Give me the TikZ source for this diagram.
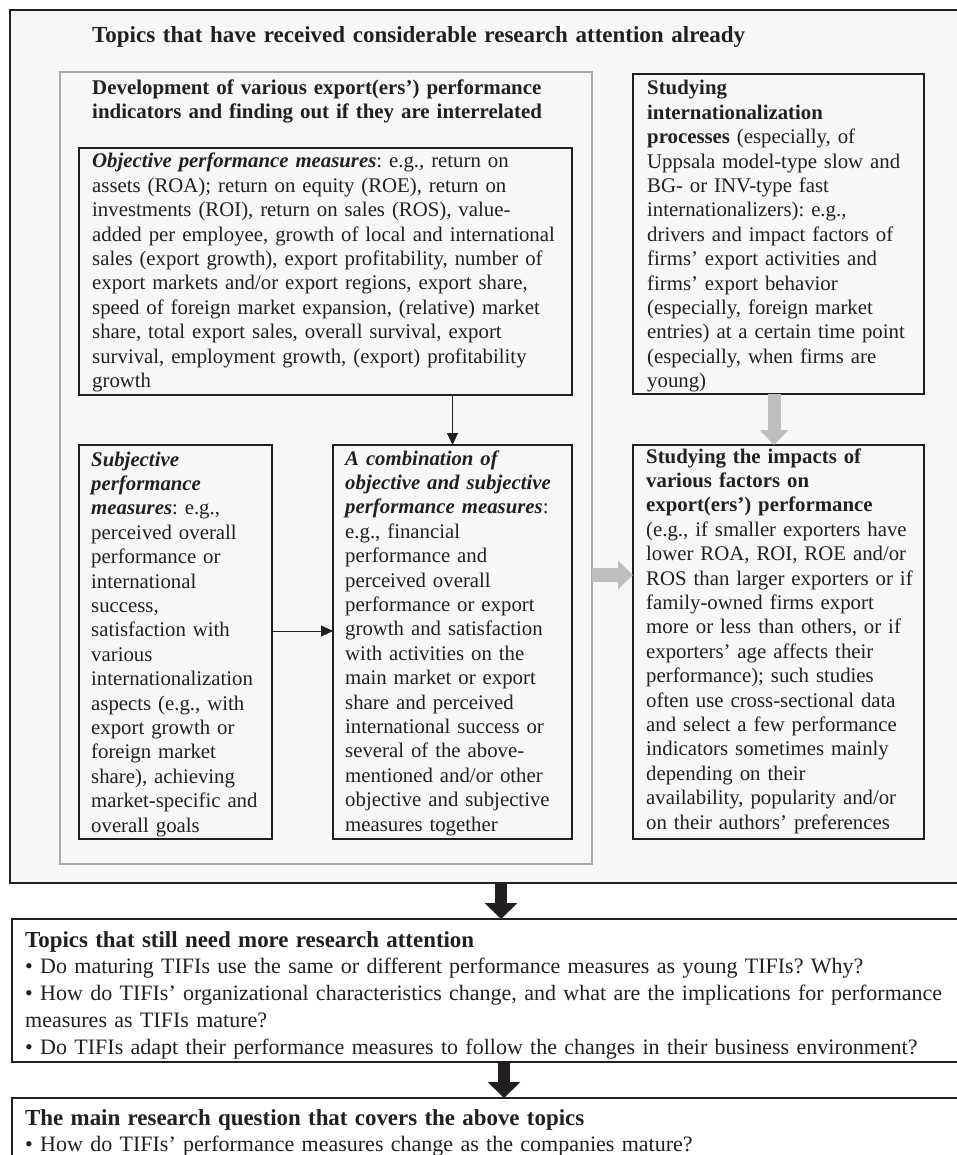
\documentclass[tikz,border=0pt]{standalone}
\usepackage{fontspec}
\setmainfont{Liberation Serif}
\usetikzlibrary{arrows.meta,calc}
\definecolor{ink}{HTML}{231F20}
\definecolor{boxfill}{HTML}{F7F7F7}
\definecolor{framegray}{HTML}{A7A9AC}
\definecolor{arrgray}{HTML}{BCBEC0}
\newcommand{\bodyfont}{\fontsize{20.8}{24.4}\selectfont}
\newcommand{\bigbody}{\fontsize{22.0}{26.8}\selectfont}
\newcommand{\bigtitle}{\fontsize{22.9}{26.8}\selectfont\bfseries}
\newcommand{\bi}[1]{\textbf{\textit{#1}}}
\frenchspacing
\hyphenpenalty=10000
\exhyphenpenalty=10000
\begin{document}
\begin{tikzpicture}[x=1pt,y=-1pt,
  shell/.style={rectangle, inner sep=0pt, outer sep=0pt, anchor=north west, line width=2pt},
  blackbox/.style={shell, draw=ink, fill=boxfill},
  whitebox/.style={shell, draw=ink, fill=white},
  graybox/.style={shell, draw=framegray, fill=boxfill},
  txt/.style={anchor=base west, inner sep=0pt, text width=#1pt, align=left, text=ink},
  thinarrow/.style={draw=ink, line width=1pt, -{Triangle[length=12pt,width=11pt]}},
  grayarrow/.style={draw=arrgray, line width=#1pt, -{Triangle[length=15pt,width=28pt]}},
  blackarrow/.style={draw=ink, line width=12pt, -{Triangle[length=16pt,width=32pt]}}
]
\useasboundingbox (0,0) rectangle (957,1155);
\clip (0,0) rectangle (957,1155);

% boxes
\node[blackbox, minimum width=965pt, minimum height=873pt] (outer) at (10,10) {};
\node[graybox, minimum width=532pt, minimum height=792pt] (dev) at (60,72) {};
\node[blackbox, minimum width=493pt, minimum height=247pt] (obj) at (79,148) {};
\node[blackbox, minimum width=193pt, minimum height=394pt] (subj) at (79,445) {};
\node[blackbox, minimum width=239pt, minimum height=394pt] (comb) at (333,445) {};
\node[blackbox, minimum width=291pt, minimum height=320pt] (proc) at (633,74) {};
\node[blackbox, minimum width=291pt, minimum height=394pt] (impact) at (633,445) {};
\node[whitebox, minimum width=963pt, minimum height=143pt] (need) at (12,919) {};
\node[whitebox, minimum width=963pt, minimum height=120pt] (mainq) at (12,1098) {};

% helper coordinates
\coordinate (hy) at (0,631);
\coordinate (gy) at (0,575);
\coordinate (gx) at (774,0);
\coordinate (a1x) at (501,0);
\coordinate (a2x) at (504,0);

% connectors
\draw[thinarrow] (obj.south -| comb.north) -- (comb.north);
\draw[thinarrow] (subj.east |- hy) -- (comb.west |- hy);
\draw[grayarrow=13] (proc.south -| gx) -- (impact.north -| gx);
\draw[grayarrow=14] (dev.east |- gy) -- (impact.west |- gy);
\draw[blackarrow] (outer.south -| a1x) -- (need.north -| a1x);
\draw[blackarrow] (need.south -| a2x) -- (mainq.north -| a2x);

% texts
\node[txt=840, font=\fontsize{23}{26}\selectfont\bfseries] (ttop) at (92,43)
  {Topics that have received considerable research attention already};
\node[txt=500, font=\fontsize{20.9}{23.3}\selectfont\bfseries] (tdev) at (92,95)
  {Development of various export(ers’) performance\\
   indicators and finding out if they are interrelated};
\node[txt=475, font=\bodyfont] (tobj) at (92,168)
  {\bi{Objective performance measures}: e.g., return on\\
   assets (ROA); return on equity (ROE), return on\\
   investments (ROI), return on sales (ROS), value-\\
   added per employee, growth of local and international\\
   sales (export growth), export profitability, number of\\
   export markets and/or export regions, export share,\\
   speed of foreign market expansion, (relative) market\\
   share, total export sales, overall survival, export\\
   survival, employment growth, (export) profitability\\
   growth};
\node[txt=180, font=\bodyfont] (tsubj) at (91,466)
  {\bi{Subjective}\\
   \bi{performance}\\
   \bi{measures}: e.g.,\\
   perceived overall\\
   performance or\\
   international\\
   success,\\
   satisfaction with\\
   various\\
   internationalization\\
   aspects (e.g., with\\
   export growth or\\
   foreign market\\
   share), achieving\\
   market-specific and\\
   overall goals};
\node[txt=225, font=\bodyfont] (tcomb) at (345,465)
  {\bi{A combination of}\\
   \bi{objective and subjective}\\
   \bi{performance measures}:\\
   e.g., financial\\
   performance and\\
   perceived overall\\
   performance or export\\
   growth and satisfaction\\
   with activities on the\\
   main market or export\\
   share and perceived\\
   international success or\\
   several of the above-\\
   mentioned and/or other\\
   objective and subjective\\
   measures together};
\node[txt=275, font=\bodyfont] (tproc) at (647,95)
  {\textbf{Studying}\\
   \textbf{internationalization}\\
   \textbf{processes} (especially, of\\
   Uppsala model-type slow and\\
   BG- or INV-type fast\\
   internationalizers): e.g.,\\
   drivers and impact factors of\\
   firms’ export activities and\\
   firms’ export behavior\\
   (especially, foreign market\\
   entries) at a certain time point\\
   (especially, when firms are\\
   young)};
\node[txt=275, font=\bodyfont] (timpact) at (646,463)
  {\textbf{Studying the impacts of}\\
   \textbf{various factors on}\\
   \textbf{export(ers’) performance}\\
   (e.g., if smaller exporters have\\
   lower ROA, ROI, ROE and/or\\
   ROS than larger exporters or if\\
   family-owned firms export\\
   more or less than others, or if\\
   exporters’ age affects their\\
   performance); such studies\\
   often use cross-sectional data\\
   and select a few performance\\
   indicators sometimes mainly\\
   depending on their\\
   availability, popularity and/or\\
   on their authors’ preferences};
\node[txt=1100, font=\bigbody] (tneed) at (25,947)
  {{\bigtitle Topics that still need more research attention}\\
   \textbullet\ Do maturing TIFIs use the same or different performance measures as young TIFIs? Why?\\
   \textbullet\ How do TIFIs’ organizational characteristics change, and what are the implications for performance\\
   measures as TIFIs mature?\\
   \textbullet\ Do TIFIs adapt their performance measures to follow the changes in their business environment?};
\node[txt=1100, font=\bigbody] (tmainq) at (25,1125)
  {{\bigtitle The main research question that covers the above topics}\\
   \textbullet\ How do TIFIs’ performance measures change as the companies mature?};
\end{tikzpicture}
\end{document}
